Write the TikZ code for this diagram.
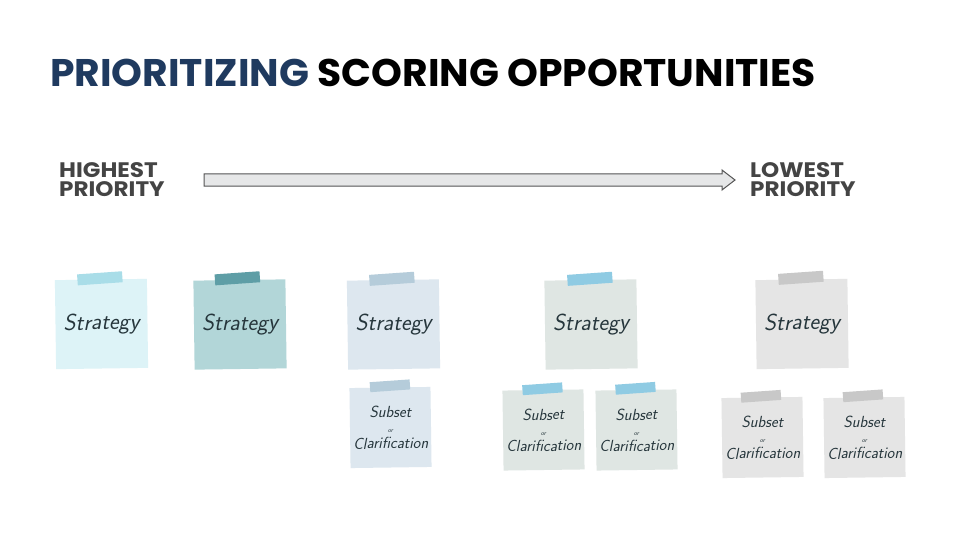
\documentclass[tikz,border=0pt]{standalone}
\usepackage{fontspec}
\setmainfont{Poppins}
\usetikzlibrary{calc}
\definecolor{navy}{HTML}{1F3A5F}
\definecolor{lblgray}{HTML}{444444}
\definecolor{arrline}{HTML}{555555}
\definecolor{arrfill}{HTML}{E6E7E8}
\definecolor{inkc}{HTML}{26363C}
\definecolor{nA}{HTML}{DDF3F7}\definecolor{tA}{HTML}{A9DDE8}
\definecolor{nB}{HTML}{B2D6D8}\definecolor{tB}{HTML}{5E9EA6}
\definecolor{nC}{HTML}{DDE7EF}\definecolor{tC}{HTML}{B5CCDA}
\definecolor{nD}{HTML}{DFE6E3}\definecolor{tD}{HTML}{8FCBE3}
\definecolor{nE}{HTML}{E5E5E5}\definecolor{tE}{HTML}{C8C8C8}
\newcommand{\hand}{\fontspec{Latin Modern Sans}\itshape}
\newcommand{\stxt}{Subset\\[-3pt]{\fontsize{6}{7}\selectfont or}\\[-2pt]Clarification}
\begin{document}
\begin{tikzpicture}[x=1pt,y=-1pt,
  bignote/.style={minimum width=92pt,minimum height=89pt,inner sep=0pt,rotate=0.8,
    font=\hand\fontsize{23}{26}\selectfont,text=inkc},
  smallnote/.style={minimum width=81pt,minimum height=80pt,inner sep=0pt,rotate=0.8,
    align=center,text=inkc,font=\hand\fontsize{16}{18}\selectfont},
  tape/.style={minimum width=45pt,minimum height=11pt,inner sep=0pt,rotate=4},
  smalltape/.style={minimum width=40pt,minimum height=10pt,inner sep=0pt,rotate=4},
  prio/.style={anchor=north west,align=left,text=lblgray,
    font=\fontsize{21}{19.5}\selectfont\bfseries,inner sep=0pt}]
\useasboundingbox[fill=white] (0,0) rectangle (960,540);
% title
\node[anchor=base west,inner sep=0pt,font=\fontsize{38.5}{42}\selectfont\bfseries] (title) at (50,87)
  {\scalebox{1.02}[1]{\textcolor{navy}{PRIORITIZING} SCORING OPPORTUNITIES}};
% priority labels and arrow
\node[prio] (hi) at (59,162) {\scalebox{1.1}[1]{HIGHEST}\\\scalebox{1.1}[1]{PRIORITY}};
\node[prio] (lo) at (750,162) {\scalebox{1.1}[1]{LOWEST}\\\scalebox{1.1}[1]{PRIORITY}};
\coordinate (a0) at (204,180);
\coordinate (a1) at (735,180);
\draw[draw=arrline,fill=arrfill,line width=1pt,line join=miter]
  ($(a0)+(0,-6)$) -- ($(a1)+(-13,-6)$) -- ($(a1)+(-13,-10)$) -- (a1)
  -- ($(a1)+(-13,10)$) -- ($(a1)+(-13,6)$) -- ($(a0)+(0,6)$) -- cycle;
% notes
\node[bignote,fill=nA] (s1) at (101.5,324) {Strategy};
\node[tape,fill=tA] (t1) at ($(s1.north)+(-1,-1)$) {};
\node[bignote,fill=nB] (s2) at (240,324.5) {Strategy};
\node[tape,fill=tB] (t2) at ($(s2.north)+(-2,-1.5)$) {};
\node[bignote,fill=nC] (s3) at (393.5,324.5) {Strategy};
\node[tape,fill=tC] (t3) at ($(s3.north)+(-1,-1)$) {};
\node[smallnote,fill=nC] (c3) at (390.5,427.5) {\stxt};
\node[smalltape,fill=tC] (u3) at ($(c3.north)+(0,-1.5)$) {};
\node[bignote,fill=nD] (s4) at (591,324.5) {Strategy};
\node[tape,fill=tD] (t4) at ($(s4.north)+(-0.5,-1)$) {};
\node[smallnote,fill=nD] (c4a) at (543.5,430) {\stxt};
\node[smalltape,fill=tD] (u4a) at ($(c4a.north)+(-0.5,-1)$) {};
\node[smallnote,fill=nD] (c4b) at (636.5,430) {\stxt};
\node[smalltape,fill=tD] (u4b) at ($(c4b.north)+(-0.5,-1.5)$) {};
\node[bignote,fill=nE] (s5) at (802,324) {Strategy};
\node[tape,fill=tE] (t5) at ($(s5.north)+(-0.5,-1.5)$) {};
\node[smallnote,fill=nE] (c5a) at (762.5,437.5) {\stxt};
\node[smalltape,fill=tE] (u5a) at ($(c5a.north)+(-1,-1)$) {};
\node[smallnote,fill=nE] (c5b) at (864.5,437.5) {\stxt};
\node[smalltape,fill=tE] (u5b) at ($(c5b.north)+(-1,-1.5)$) {};
\end{tikzpicture}
\end{document}
